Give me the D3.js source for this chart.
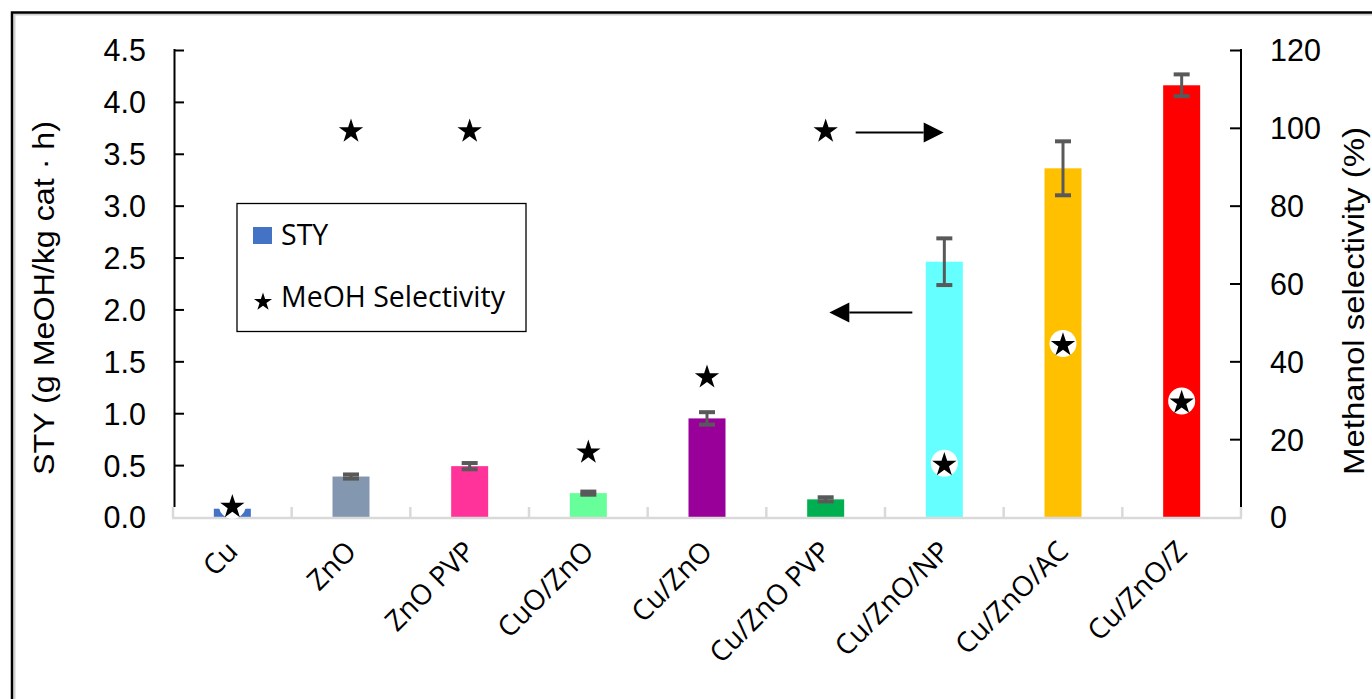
<!DOCTYPE html>
<html>
<head>
<meta charset="utf-8">
<script src="https://cdn.jsdelivr.net/npm/d3@7"></script>
<style>
  html, body { margin: 0; padding: 0; background: #fff; }
  svg { display: block; }
</style>
</head>
<body>
<svg id="chart" width="1372" height="699"></svg>
<script>
// ---- data ----
const categories = ["Cu", "ZnO", "ZnO PVP", "CuO/ZnO", "Cu/ZnO", "Cu/ZnO PVP", "Cu/ZnO/NP", "Cu/ZnO/AC", "Cu/ZnO/Z"];
const styValues = [0.08, 0.39, 0.49, 0.23, 0.95, 0.17, 2.46, 3.36, 4.16];
const styErrors = [0.01, 0.02, 0.03, 0.015, 0.06, 0.02, 0.225, 0.26, 0.105];
const selectivity = [3, 99.5, 99.5, 17, 36.3, 99.5, 13.8, 44.6, 29.8];
const barColors = ["#4472C4", "#8497B0", "#FF3399", "#66FF99", "#990099", "#00B050", "#66FFFF", "#FFC000", "#FF0000"];
const leftTicks = [0, 0.5, 1, 1.5, 2, 2.5, 3, 3.5, 4, 4.5];
const rightTicks = [0, 20, 40, 60, 80, 100, 120];
const leftTitle = "STY (g MeOH/kg cat \u00B7 h)";
const rightTitle = "Methanol selectivity (%)";
const legendLabels = ["STY", "MeOH Selectivity"];

// ---- layout ----
const svg = d3.select("#chart");
const plot = { left: 174, right: 1241, top: 50, bottom: 517 };

const x = d3.scaleBand().domain(categories).range([173, 1241]).paddingInner(0).paddingOuter(0);
const yL = d3.scaleLinear().domain([0, 4.5]).range([plot.bottom, plot.top]);
const yR = d3.scaleLinear().domain([0, 120]).range([plot.bottom, plot.top]);
const barW = 37;
const cx = c => x(c) + x.bandwidth() / 2;

// outer frame
svg.append("rect").attr("x", 14.5).attr("y", 14.5).attr("width", 1400).attr("height", 800)
  .attr("fill", "none").attr("stroke", "#d0d0d0").attr("stroke-width", 2);
svg.append("rect").attr("x", 12).attr("y", 12.5).attr("width", 1400).attr("height", 800)
  .attr("fill", "none").attr("stroke", "#000").attr("stroke-width", 2.5);

// bars
const data = categories.map((c, i) => ({ c, v: styValues[i], e: styErrors[i], s: selectivity[i], col: barColors[i] }));
svg.append("g").selectAll("rect").data(data).join("rect")
  .attr("x", d => cx(d.c) - barW / 2)
  .attr("y", d => yL(d.v))
  .attr("width", barW)
  .attr("height", d => yL(0) - yL(d.v))
  .attr("fill", d => d.col);

// error bars
const eg = svg.append("g").attr("stroke", "#595959");
eg.selectAll("line.v").data(data).join("line").attr("class", "v")
  .attr("x1", d => cx(d.c)).attr("x2", d => cx(d.c))
  .attr("y1", d => yL(d.v + d.e)).attr("y2", d => yL(d.v - d.e))
  .attr("stroke-width", 3);
eg.selectAll("line.t").data(data).join("line").attr("class", "t")
  .attr("x1", d => cx(d.c) - 8).attr("x2", d => cx(d.c) + 8)
  .attr("y1", d => yL(d.v + d.e)).attr("y2", d => yL(d.v + d.e))
  .attr("stroke-width", 4);
eg.selectAll("line.b").data(data).join("line").attr("class", "b")
  .attr("x1", d => cx(d.c) - 8).attr("x2", d => cx(d.c) + 8)
  .attr("y1", d => yL(d.v - d.e)).attr("y2", d => yL(d.v - d.e))
  .attr("stroke-width", 4);

// x baseline (gray) with separators
const sepG = svg.append("g");
sepG.append("line").attr("x1", 172).attr("x2", 1242).attr("y1", plot.bottom + 1).attr("y2", plot.bottom + 1)
  .attr("stroke", "#d9d9d9").attr("stroke-width", 2.5);
const seps = categories.map(c => x(c)).concat([x.range()[1]]);
sepG.selectAll("line.sep").data(seps).join("line").attr("class", "sep")
  .attr("x1", d => d).attr("x2", d => d).attr("y1", plot.bottom - 10).attr("y2", plot.bottom)
  .attr("stroke", "#d9d9d9").attr("stroke-width", 2.5);

// left axis
const fmt = d3.format(".1f");
const gL = svg.append("g").attr("transform", `translate(${plot.left},0)`)
  .call(d3.axisRight(yL).tickValues(leftTicks).tickSize(10).tickFormat(fmt));
gL.select(".domain").attr("d", `M0.5,${plot.top - 1}V${plot.bottom - 10}`).attr("stroke", "#000").attr("stroke-width", 2);
gL.selectAll(".tick line").attr("stroke", "#000").attr("stroke-width", 2);
gL.selectAll(".tick").filter(d => d === 0).select("line").remove();
gL.selectAll(".tick text").attr("x", -28).attr("text-anchor", "end").attr("dy", "0.36em")
  .attr("font-family", "'Liberation Sans', Arial, sans-serif").attr("font-size", 30.5).attr("fill", "#000");

// right axis
const gR = svg.append("g").attr("transform", `translate(${plot.right},0)`)
  .call(d3.axisLeft(yR).tickValues(rightTicks).tickSize(11).tickFormat(d3.format("d")));
gR.select(".domain").attr("d", `M0,${plot.top - 1}V${plot.bottom - 10}`).attr("stroke", "#000").attr("stroke-width", 2);
gR.selectAll(".tick line").attr("stroke", "#000").attr("stroke-width", 2);
gR.selectAll(".tick").filter(d => d === 0).select("line").remove();
gR.selectAll(".tick text").attr("x", 29).attr("text-anchor", "start").attr("dy", "0.36em")
  .attr("font-family", "'Liberation Sans', Arial, sans-serif").attr("font-size", 30.5).attr("fill", "#000");

// axis titles
svg.append("text").attr("transform", `translate(54,298) rotate(-90)`)
  .attr("text-anchor", "middle").attr("font-family", "'Liberation Sans', Arial, sans-serif")
  .attr("font-size", 29).attr("textLength", 354).attr("lengthAdjust", "spacingAndGlyphs").text(leftTitle);
svg.append("text").attr("transform", `translate(1364,301) rotate(-90)`)
  .attr("text-anchor", "middle").attr("font-family", "'Liberation Sans', Arial, sans-serif")
  .attr("font-size", 29).attr("textLength", 348).attr("lengthAdjust", "spacingAndGlyphs").text(rightTitle);

// x labels
svg.append("g").selectAll("text").data(categories).join("text")
  .attr("transform", c => `translate(${cx(c) + 7},553) rotate(-45)`)
  .attr("text-anchor", "end").attr("font-family", "'Open Sans', sans-serif").attr("font-size", 28)
  .attr("fill", "#000").text(c => c);

// selectivity stars (right axis)
const starR = 12.8;
const star = d3.symbol(d3.symbolStar, starR * starR / 0.8908130915292852);
const sg = svg.append("g");
sg.selectAll("circle").data(data).join("circle")
  .attr("cx", d => cx(d.c)).attr("cy", d => yR(d.s)).attr("r", 13.5).attr("fill", "#fff");
sg.selectAll("path").data(data).join("path")
  .attr("transform", d => `translate(${cx(d.c)},${yR(d.s) + 1.5})`)
  .attr("d", star()).attr("fill", "#000");

// arrows (annotation, in data units)
const arrows = [
  { y: yR(98.8), x1: cx("Cu/ZnO PVP") + 30, x2: cx("Cu/ZnO PVP") + 118, dir: 1 },
  { y: yL(1.97), x1: cx("Cu/ZnO/NP") - 32, x2: cx("Cu/ZnO/NP") - 115, dir: -1 }
];
const ag = svg.append("g");
arrows.forEach(a => {
  const headLen = 20, headH = 10;
  const lineEnd = a.x2 - a.dir * headLen;
  ag.append("line").attr("x1", a.x1).attr("x2", lineEnd).attr("y1", a.y).attr("y2", a.y)
    .attr("stroke", "#000").attr("stroke-width", 2);
  ag.append("path").attr("d", `M${a.x2},${a.y}L${lineEnd},${a.y - headH}L${lineEnd},${a.y + headH}Z`).attr("fill", "#000");
});

// legend
const lg = svg.append("g");
lg.append("rect").attr("x", 237).attr("y", 203.5).attr("width", 289).attr("height", 128)
  .attr("fill", "#fff").attr("stroke", "#000").attr("stroke-width", 1.3);
lg.append("rect").attr("x", 253).attr("y", 227).attr("width", 19).attr("height", 17).attr("fill", barColors[0]);
lg.append("text").attr("x", 281).attr("y", 245).attr("font-family", "'Open Sans', sans-serif").attr("font-size", 28.5)
  .text(legendLabels[0]);
const lr = 9.5;
lg.append("path").attr("transform", `translate(263,302)`)
  .attr("d", d3.symbol(d3.symbolStar, lr * lr / 0.8908130915292852)()).attr("fill", "#000");
lg.append("text").attr("x", 281).attr("y", 307).attr("font-family", "'Open Sans', sans-serif").attr("font-size", 28.5)
  .text(legendLabels[1]);
</script>
</body>
</html>
